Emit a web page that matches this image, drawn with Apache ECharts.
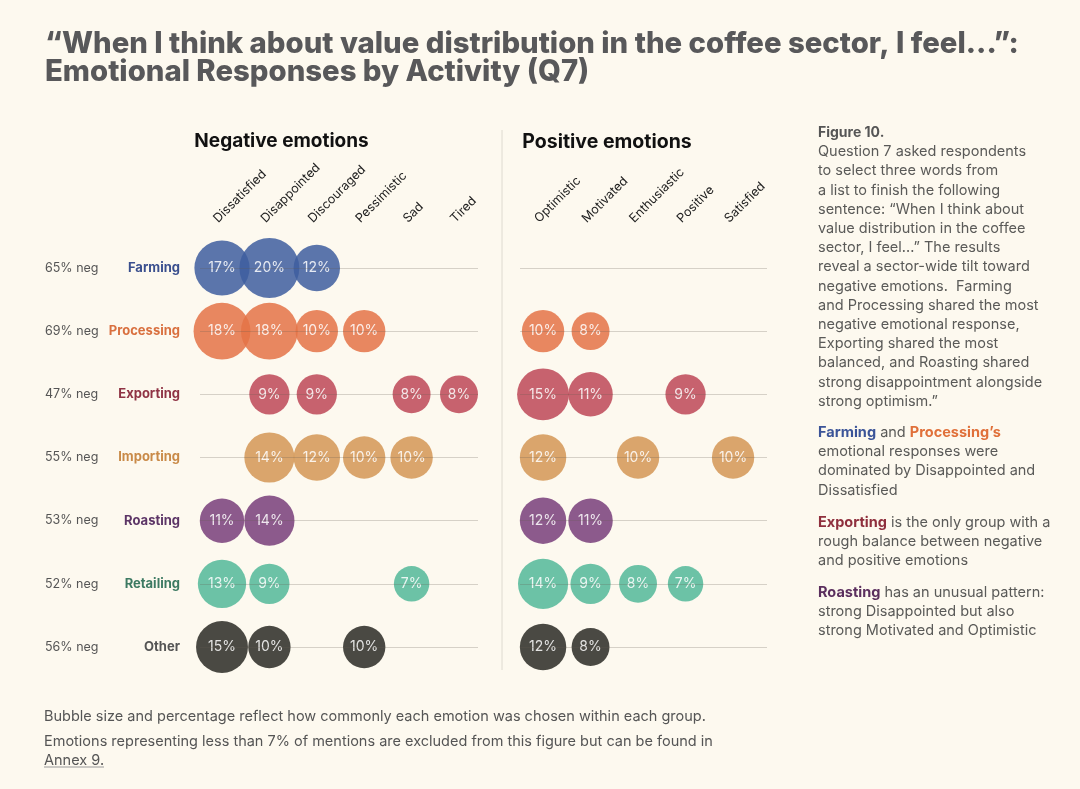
<!DOCTYPE html>
<html><head><meta charset="utf-8">
<script src="https://cdn.jsdelivr.net/npm/echarts@6/dist/echarts.min.js"></script>
<style>html,body{margin:0;padding:0;background:#fdf9ef;}#c{width:1080px;height:789px;}</style>
</head><body><div id="c"></div>
<script>
const groups = ['Farming','Processing','Exporting','Importing','Roasting','Retailing','Other'];
const negPct = [65,69,47,55,53,52,56];
const negEmotions = ['Dissatisfied','Disappointed','Discouraged','Pessimistic','Sad','Tired'];
const posEmotions = ['Optimistic','Motivated','Enthusiastic','Positive','Satisfied'];

const negFarming    = [17,20,12,null,null,null];
const negProcessing = [18,18,10,10,null,null];
const negExporting  = [null,9,9,null,8,8];
const negImporting  = [null,14,12,10,10,null];
const negRoasting   = [11,14,null,null,null,null];
const negRetailing  = [13,9,null,null,7,null];
const negOther      = [15,10,null,10,null,null];

const posFarming    = [null,null,null,null,null];
const posProcessing = [10,8,null,null,null];
const posExporting  = [15,11,null,9,null];
const posImporting  = [12,null,10,null,10];
const posRoasting   = [12,11,null,null,null];
const posRetailing  = [14,9,8,7,null];
const posOther      = [12,8,null,null,null];

const negValues = [negFarming,negProcessing,negExporting,negImporting,negRoasting,negRetailing,negOther];
const posValues = [posFarming,posProcessing,posExporting,posImporting,posRoasting,posRetailing,posOther];

const bubbleColors = ['#3e5e9f','#e47346','#bd4857','#d39755','#783e7a','#52b899','#2a2a24'];
const nameColors   = ['#3a4f8e','#d9703f','#8f3344','#c98a48','#5c3566','#3d7a62','#555555'];

const FONT = 'Inter, "Noto Sans", sans-serif';

function makeSeries(values, axisIdx) {
  return groups.map((g, gi) => ({
    type: 'scatter',
    name: g + (axisIdx ? ' pos' : ' neg'),
    xAxisIndex: axisIdx, yAxisIndex: axisIdx,
    z: 2,
    data: values[gi].map((v, ei) => v == null ? null : [ei, g, v]).filter(d => d),
    symbolSize: d => 13.4 * Math.sqrt(d[2]),
    itemStyle: { color: bubbleColors[gi], opacity: 0.85 },
    label: { show: true, position: 'inside', color: '#ffffff', fontSize: 14, fontFamily: FONT,
      formatter: p => p.value[2] + '%' },
    emphasis: { disabled: true }
  }));
}

const xCat = (data, gi) => ({
  type: 'category', gridIndex: gi, data: data, position: 'top', boundaryGap: true,
  axisLine: { show: false }, axisTick: { show: false }, splitLine: { show: false },
  axisLabel: { rotate: -45, interval: 0, margin: 41, fontSize: 12.5, color: '#222', fontFamily: FONT,
    verticalAlign: 'bottom', lineHeight: 18 }
});
const yHidden = gi => ({ type: 'category', gridIndex: gi, data: groups, inverse: true, boundaryGap: false, show: false });

const chart = echarts.init(document.getElementById('c'), null, { renderer: 'canvas' });
chart.setOption({
  backgroundColor: '#fdf9ef',
  animation: false,
  title: [
    { text: '\u201cWhen I think about value distribution in the coffee sector, I feel...\u201d:\nEmotional Responses by Activity (Q7)',
      left: 40, top: 25, textStyle: { fontSize: 29.3, fontWeight: 800, color: '#58585a', lineHeight: 28, fontFamily: FONT } },
    { text: 'Negative emotions', left: 276.5, top: 127, textAlign: 'center',
      textStyle: { fontSize: 19, fontWeight: 'bold', color: '#111', fontFamily: FONT } },
    { text: 'Positive emotions', left: 602, top: 127, textAlign: 'center',
      textStyle: { fontSize: 19.5, fontWeight: 'bold', color: '#111', fontFamily: FONT } }
  ],
  grid: [
    { left: 198.3, right: 597.3, top: 268, bottom: 142 },
    { left: 519.3, right: 323.2, top: 268, bottom: 142 },
    { left: 200, right: 602, top: 268, bottom: 142 },
    { left: 520, right: 313, top: 268, bottom: 142 }
  ],
  xAxis: [
    xCat(negEmotions, 0),
    xCat(posEmotions, 1),
    { type: 'value', gridIndex: 2, show: false },
    { type: 'value', gridIndex: 3, show: false }
  ],
  yAxis: [
    yHidden(0),
    yHidden(1),
    { type: 'category', gridIndex: 2, data: groups, inverse: true, boundaryGap: false, z: 5, position: 'left',
      axisLine: { show: false }, axisTick: { show: false },
      splitLine: { show: true, lineStyle: { color: 'rgba(100,90,80,0.25)', width: 1 } },
      axisLabel: { margin: 20, fontSize: 13, fontWeight: 'bold', fontFamily: FONT,
        color: (v, i) => nameColors[groups.indexOf(v)] } },
    { type: 'category', gridIndex: 2, data: groups, inverse: true, boundaryGap: false, position: 'left', offset: 0,
      axisLine: { show: false }, axisTick: { show: false }, splitLine: { show: false },
      axisLabel: { margin: 155, align: 'left', fontSize: 12.5, color: '#555', fontFamily: FONT,
        formatter: (v, i) => negPct[groups.indexOf(v)] + '% neg' } },
    { type: 'category', gridIndex: 3, data: groups, inverse: true, boundaryGap: false, z: 5,
      axisLine: { show: false }, axisTick: { show: false }, axisLabel: { show: false },
      splitLine: { show: true, lineStyle: { color: 'rgba(100,90,80,0.25)', width: 1 } } }
  ],
  series: [...makeSeries(negValues, 0), ...makeSeries(posValues, 1)],
  graphic: [
    { type: 'line', shape: { x1: 502, y1: 130, x2: 502, y2: 670 }, style: { stroke: '#dedad0', lineWidth: 1 } },
    { type: 'text', left: 818, top: 123, style: {
        text: '{b|Figure 10.}\nQuestion 7 asked respondents\nto select three words from\na list to finish the following\nsentence: \u201cWhen I think about\nvalue distribution in the coffee\nsector, I feel...\u201d The results\nreveal a sector-wide tilt toward\nnegative emotions.  Farming\nand Processing shared the most\nnegative emotional response,\nExporting shared the most\nbalanced, and Roasting shared\nstrong disappointment alongside\nstrong optimism.\u201d',
        fontSize: 14.5, lineHeight: 19.2, fill: '#5a5a58', fontFamily: FONT,
        rich: { b: { fontWeight: 'bold', fontSize: 14, fill: '#555', lineHeight: 19.2, fontFamily: FONT } } } },
    { type: 'text', left: 818, top: 423, style: {
        text: '{f|Farming} and {p|Processing\u2019s}\nemotional responses were\ndominated by Disappointed and\nDissatisfied',
        fontSize: 14.5, lineHeight: 19.2, fill: '#5a5a58', fontFamily: FONT,
        rich: { f: { fontWeight: 'bold', fill: '#3b5498', fontSize: 14.5, fontFamily: FONT },
                p: { fontWeight: 'bold', fill: '#e0703a', fontSize: 14.5, fontFamily: FONT } } } },
    { type: 'text', left: 818, top: 513, style: {
        text: '{e|Exporting} is the only group with a\nrough balance between negative\nand positive emotions',
        fontSize: 14.5, lineHeight: 19.2, fill: '#5a5a58', fontFamily: FONT,
        rich: { e: { fontWeight: 'bold', fill: '#8f2f3d', fontSize: 14.5, fontFamily: FONT } } } },
    { type: 'text', left: 818, top: 583, style: {
        text: '{r|Roasting} has an unusual pattern:\nstrong Disappointed but also\nstrong Motivated and Optimistic',
        fontSize: 14.5, lineHeight: 19.2, fill: '#5a5a58', fontFamily: FONT,
        rich: { r: { fontWeight: 'bold', fill: '#5b2f5e', fontSize: 14.5, fontFamily: FONT } } } },
    { type: 'text', left: 44, top: 709, style: {
        text: 'Bubble size and percentage reflect how commonly each emotion was chosen within each group.',
        fontSize: 14.5, fill: '#555', fontFamily: FONT } },
    { type: 'text', left: 44, top: 732, style: {
        text: 'Emotions representing less than 7% of mentions are excluded from this figure but can be found in\nAnnex 9.',
        fontSize: 14.5, lineHeight: 19, fill: '#555', fontFamily: FONT } },
    { type: 'line', shape: { x1: 44, y1: 767, x2: 104, y2: 767 }, style: { stroke: '#999', lineWidth: 1 } }
  ]
});
</script></body></html>
